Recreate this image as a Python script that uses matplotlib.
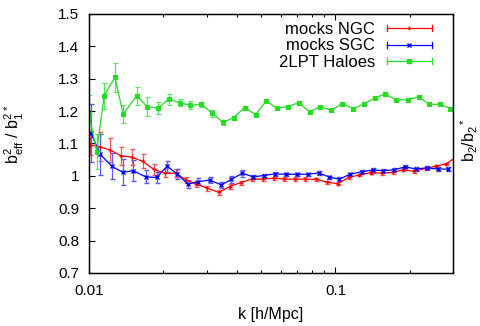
import numpy as np
import matplotlib.pyplot as plt
from matplotlib.lines import Line2D
from matplotlib.legend_handler import HandlerBase
from matplotlib.container import ErrorbarContainer
from matplotlib.ticker import FixedLocator, LogLocator, NullFormatter, FormatStrFormatter

plt.rcParams['font.family'] = ['Liberation Sans', 'DejaVu Sans']
plt.rcParams['mathtext.fontset'] = 'custom'
plt.rcParams['mathtext.rm'] = 'Liberation Sans'
plt.rcParams['mathtext.it'] = 'Liberation Sans:italic'

# mocks NGC
k_ngc = [0.01009, 0.01108, 0.01216, 0.01348, 0.01489, 0.01650, 0.01833, 0.02031, 0.02250,
         0.02486, 0.02729, 0.03018, 0.03366, 0.03724, 0.04125, 0.04570, 0.05077, 0.05610,
         0.06160, 0.06823, 0.07558, 0.08378, 0.09282, 0.1022, 0.1131, 0.1251, 0.1390,
         0.1540, 0.1706, 0.1885, 0.2083, 0.2321, 0.2557, 0.2814, 0.3118]
b_ngc = [1.095, 1.090, 1.080, 1.062, 1.058, 1.045, 1.020, 1.008, 1.008, 0.987, 0.975, 0.962,
         0.949, 0.967, 0.979, 0.990, 0.990, 0.993, 0.990, 0.990, 0.990, 0.989, 0.980, 0.976,
         0.995, 1.003, 1.010, 1.008, 1.011, 1.019, 1.014, 1.023, 1.030, 1.037, 1.060]
e_ngc = [0.030, 0.045, 0.037, 0.028, 0.025, 0.022, 0.018, 0.013, 0.013, 0.010, 0.009, 0.008,
         0.008, 0.007, 0.006, 0.006, 0.006, 0.005, 0.005, 0.005, 0.005, 0.005, 0.004, 0.004,
         0.004, 0.004, 0.004, 0.004, 0.004, 0.004, 0.004, 0.004, 0.004, 0.004, 0.004]

# mocks SGC
k_sgc = [0.01016, 0.01113, 0.01236, 0.01369, 0.01512, 0.01696, 0.01880, 0.02075, 0.02286,
         0.02523, 0.02770, 0.03090, 0.03445, 0.03782, 0.04191, 0.04627, 0.05111, 0.05662,
         0.06316, 0.06998, 0.07725, 0.08558, 0.09456, 0.1038, 0.1147, 0.1283, 0.1416,
         0.1564, 0.1734, 0.1920, 0.2122, 0.2352, 0.2596, 0.2875]
b_sgc = [1.133, 1.066, 1.030, 1.011, 1.016, 0.997, 0.995, 1.030, 1.005, 0.974, 0.982, 0.987,
         0.972, 0.989, 1.008, 0.997, 1.001, 1.006, 1.005, 1.005, 1.005, 1.009, 0.996, 0.990,
         1.005, 1.013, 1.018, 1.016, 1.019, 1.028, 1.021, 1.025, 1.021, 1.021]
e_sgc = [0.090, 0.064, 0.040, 0.040, 0.033, 0.020, 0.018, 0.017, 0.015, 0.012, 0.010, 0.010,
         0.010, 0.010, 0.010, 0.007, 0.006, 0.006, 0.005, 0.005, 0.005, 0.005, 0.005, 0.005,
         0.005, 0.005, 0.005, 0.005, 0.005, 0.005, 0.005, 0.005, 0.005, 0.005]

# 2LPT haloes
k_2lpt = [0.0100, 0.01074, 0.01153, 0.01274, 0.01377, 0.01561, 0.01722, 0.01908, 0.02109,
          0.02336, 0.02581, 0.02859, 0.03168, 0.03498, 0.03864, 0.04281, 0.04744, 0.05242,
          0.05781, 0.06411, 0.07102, 0.07850, 0.08696, 0.09607, 0.1064, 0.1183, 0.1310,
          0.1452, 0.1594, 0.1761, 0.1962, 0.2174, 0.2402, 0.2661, 0.2921]
b_2lpt = [1.190, 1.075, 1.248, 1.304, 1.191, 1.248, 1.214, 1.209, 1.237, 1.226, 1.218, 1.221,
          1.193, 1.165, 1.180, 1.211, 1.189, 1.232, 1.209, 1.214, 1.226, 1.198, 1.214, 1.203,
          1.223, 1.208, 1.223, 1.241, 1.253, 1.235, 1.235, 1.244, 1.221, 1.221, 1.208]
e_2lpt = [0.060, 0.055, 0.040, 0.046, 0.027, 0.028, 0.029, 0.019, 0.017, 0.010, 0.013, 0.008,
          0.010, 0.007, 0.006, 0.006, 0.005, 0.005, 0.005, 0.005, 0.005, 0.005, 0.005, 0.005,
          0.005, 0.005, 0.005, 0.005, 0.005, 0.005, 0.005, 0.005, 0.005, 0.005, 0.005]

yticks = [0.7, 0.8, 0.9, 1.0, 1.1, 1.2, 1.3, 1.4, 1.5]


# gnuplot-like legend sample: horizontal bar with caps and a marker in the middle
class GnuHandler(HandlerBase):
    def create_artists(self, legend, orig, xd, yd, w, h, fontsize, trans):
        line = orig[0]
        c = line.get_color()
        y = h / 2 - yd
        x0, x1 = -xd, w - xd
        arts = [Line2D([x0, x1], [y, y], color=c, lw=0.9),
                Line2D([x0, x0], [y - 2.2, y + 2.2], color=c, lw=0.9),
                Line2D([x1, x1], [y - 2.2, y + 2.2], color=c, lw=0.9),
                Line2D([(x0 + x1) / 2], [y], marker=line.get_marker(),
                       ms=line.get_markersize(), color=c, mec=c, mew=1)]
        for a in arts:
            a.set_transform(trans)
        return arts


fig = plt.figure(figsize=(4.8, 3.26), dpi=100)
ax = fig.add_axes([0.1854, 0.1626, 0.7584, 0.7945])

eb1 = ax.errorbar(k_ngc, b_ngc, yerr=e_ngc, color='#ff0000', ecolor='#ff5a5a', lw=0.9,
                  elinewidth=0.9, capsize=1.8, capthick=0.9, marker='+', ms=3.5, mew=1,
                  label='mocks NGC')
eb2 = ax.errorbar(k_sgc, b_sgc, yerr=e_sgc, color='#0000ff', ecolor='#5a5aff', lw=0.9,
                  elinewidth=0.9, capsize=1.8, capthick=0.9, marker='x', ms=3, mew=1,
                  label='mocks SGC')
eb3 = ax.errorbar(k_2lpt, b_2lpt, yerr=e_2lpt, color='#22dd22', ecolor='#55e855', lw=0.9,
                  elinewidth=0.9, capsize=1.8, capthick=0.9, marker='s', ms=2.8, mew=0.8,
                  label='2LPT Haloes')

ax.set_xscale('log')
ax.set_xlim(0.01, 0.3)
ax.set_ylim(0.7, 1.5)
ax.xaxis.set_major_locator(FixedLocator([0.01, 0.1]))
ax.xaxis.set_major_formatter(FormatStrFormatter('%g'))
ax.xaxis.set_minor_locator(LogLocator(base=10, subs=np.arange(2, 10)))
ax.xaxis.set_minor_formatter(NullFormatter())
ax.set_yticks(yticks)
ax.yaxis.set_major_formatter(FormatStrFormatter('%g'))
ax.tick_params(which='both', direction='in', top=True, right=True, labelsize=11, colors='black')
ax.tick_params(which='major', length=4, width=0.8)
ax.tick_params(which='minor', length=2, width=0.8)
ax.tick_params(axis='x', which='major', pad=8)
ax.tick_params(axis='y', which='major', pad=7)
for s in ax.spines.values():
    s.set_linewidth(1.0)

ax.set_xlabel('k [h/Mpc]', fontsize=11.5)
ax.xaxis.set_label_coords(0.5, -0.132)
ax.set_ylabel(r'b$^2_{\mathregular{eff}}$ / b$^2_1$$^*$', fontsize=11.5)
ax.yaxis.set_label_coords(-0.172, 0.535)
ax2 = ax.twinx()
ax2.set_ylim(ax.get_ylim())
ax2.set_yticks([])
ax2.set_ylabel(r'b$_2$/b$_2$$^*$', fontsize=11.5)
ax2.yaxis.set_label_coords(1.014, 0.515)

ax.legend(handles=[eb1, eb2, eb3], loc='upper right', bbox_to_anchor=(0.942, 0.97),
          frameon=False, markerfirst=False, fontsize=12, handlelength=2.7,
          handletextpad=0.72, labelspacing=0.1, borderpad=0, borderaxespad=0,
          handler_map={ErrorbarContainer: GnuHandler()})

fig.savefig('out.png', dpi=100)
